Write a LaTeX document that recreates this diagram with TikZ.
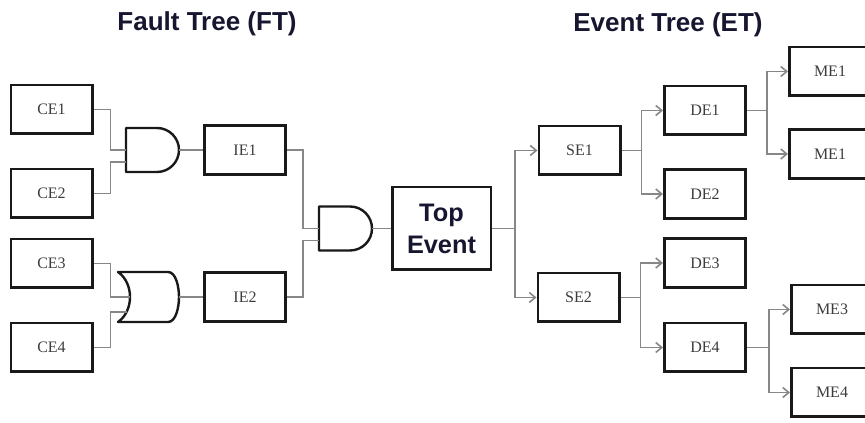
\documentclass[tikz,border=0pt]{standalone}
\usepackage{fontspec}
\setmainfont{Liberation Serif}
\newfontfamily\headfont{Liberation Sans}
\usepackage{tikz}
\usetikzlibrary{arrows.meta}
\definecolor{wiregray}{RGB}{135,135,135}
\definecolor{headblue}{RGB}{22,22,48}
\definecolor{boxtext}{RGB}{60,60,60}

\tikzset{
	event/.style={draw=black!90, line width=2pt, minimum width=61pt, minimum height=36.5pt, inner sep=0pt, text=boxtext, font=\fontsize{12}{14}\selectfont},
	topevent/.style={event, minimum width=74pt, minimum height=62pt, align=center, text=headblue, font=\headfont\bfseries\fontsize{19}{24}\selectfont},
	head/.style={text=headblue, font=\headfont\bfseries\fontsize{19.5}{24}\selectfont},
	wire/.style={draw=wiregray, line width=1.2pt},
	gateline/.style={draw=black!90, line width=1.8pt, line join=round},
	andgate/.pic={
		\draw[gateline] (0,22) -- (31,22) arc[start angle=90, end angle=-90, radius=22] -- (0,-22) -- cycle;
		\coordinate (-in1) at (0,0);
		\coordinate (-in2) at (0,-12);
		\coordinate (-out) at (53,0);
	},
	orgate/.pic={
		\draw[gateline] (0,25) -- (50,25) .. controls (58,25) and (61,10) .. (61,0)
			.. controls (61,-10) and (58,-25) .. (50,-25) -- (0,-25) .. controls (16,-14) and (16,14) .. (0,25) -- cycle;
		\coordinate (-in1) at (12,0);
		\coordinate (-in2) at (9,-15);
		\coordinate (-out) at (61,0);
	}
}

\begin{document}
\begin{tikzpicture}[x=0.75pt, y=0.75pt, >={Straight Barb[length=4.5pt,width=7.5pt]}]
	\useasboundingbox (0,0) rectangle (865,-423);
	\clip (0,0) rectangle (865,-423);

	% titles
	\node[head] (ft) at (207,-24) {Fault Tree (FT)};
	\node[head] (et) at (668,-25) {Event Tree (ET)};

	% fault tree
	\node[event] (ce1) at (51.5,-109.5) {CE1};
	\node[event] (ce2) at (51.5,-193.5) {CE2};
	\node[event] (ce3) at (51.5,-263.5) {CE3};
	\node[event] (ce4) at (51.5,-347.5) {CE4};
	\pic (g1) at (126,-150) {andgate};
	\pic (og) at (118,-297) {orgate};
	\node[event] (ie1) at (245,-150) {IE1};
	\node[event] (ie2) at (245,-297) {IE2};
	\pic (g3) at (319,-228.5) {andgate};
	\node[topevent] (top) at (441.5,-228.5) {Top\\Event};

	% event tree
	\node[event] (se1) at (579.5,-150.5) {SE1};
	\node[event] (se2) at (578.5,-297.5) {SE2};
	\node[event] (de1) at (705,-110.5) {DE1};
	\node[event] (de2) at (705,-194) {DE2};
	\node[event] (de3) at (705,-263) {DE3};
	\node[event] (de4) at (705,-347.5) {DE4};
	\node[event] (me1) at (830,-71.5) {ME1};
	\node[event] (me2) at (830,-154) {ME1};
	\node[event] (me3) at (832,-309.5) {ME3};
	\node[event] (me4) at (832,-392.5) {ME4};

	\draw[wire] (ce1.east) -- ++(17,0) |- (g1-in1);
	\draw[wire] (ce2.east) -- ++(17,0) |- (g1-in2);
	\draw[wire] (ce3.east) -- ++(17,0) |- (og-in1);
	\draw[wire] (ce4.east) -- ++(17,0) |- (og-in2);
	\draw[wire] (g1-out) -- (ie1.west);
	\draw[wire] (og-out) -- (ie2.west);
	\draw[wire] (ie1.east) -- ++(16,0) |- (g3-in1);
	\draw[wire] (ie2.east) -- ++(16,0) |- (g3-in2);
	\draw[wire] (g3-out) -- (top.west);

	\draw[wire,->] (top.east) -- ++(23,0) |- (se1.west);
	\draw[wire,->] (top.east) -- ++(23,0) |- (se2.west);
	\draw[wire,->] (se1.east) -- ++(20,0) |- (de1.west);
	\draw[wire,->] (se1.east) -- ++(20,0) |- (de2.west);
	\draw[wire,->] (se2.east) -- ++(20,0) |- (de3.west);
	\draw[wire,->] (se2.east) -- ++(20,0) |- (de4.west);
	\draw[wire,->] (de1.east) -- ++(20,0) |- (me1.west);
	\draw[wire,->] (de1.east) -- ++(20,0) |- (me2.west);
	\draw[wire,->] (de4.east) -- ++(22,0) |- (me3.west);
	\draw[wire,->] (de4.east) -- ++(22,0) |- (me4.west);
\end{tikzpicture}
\end{document}
